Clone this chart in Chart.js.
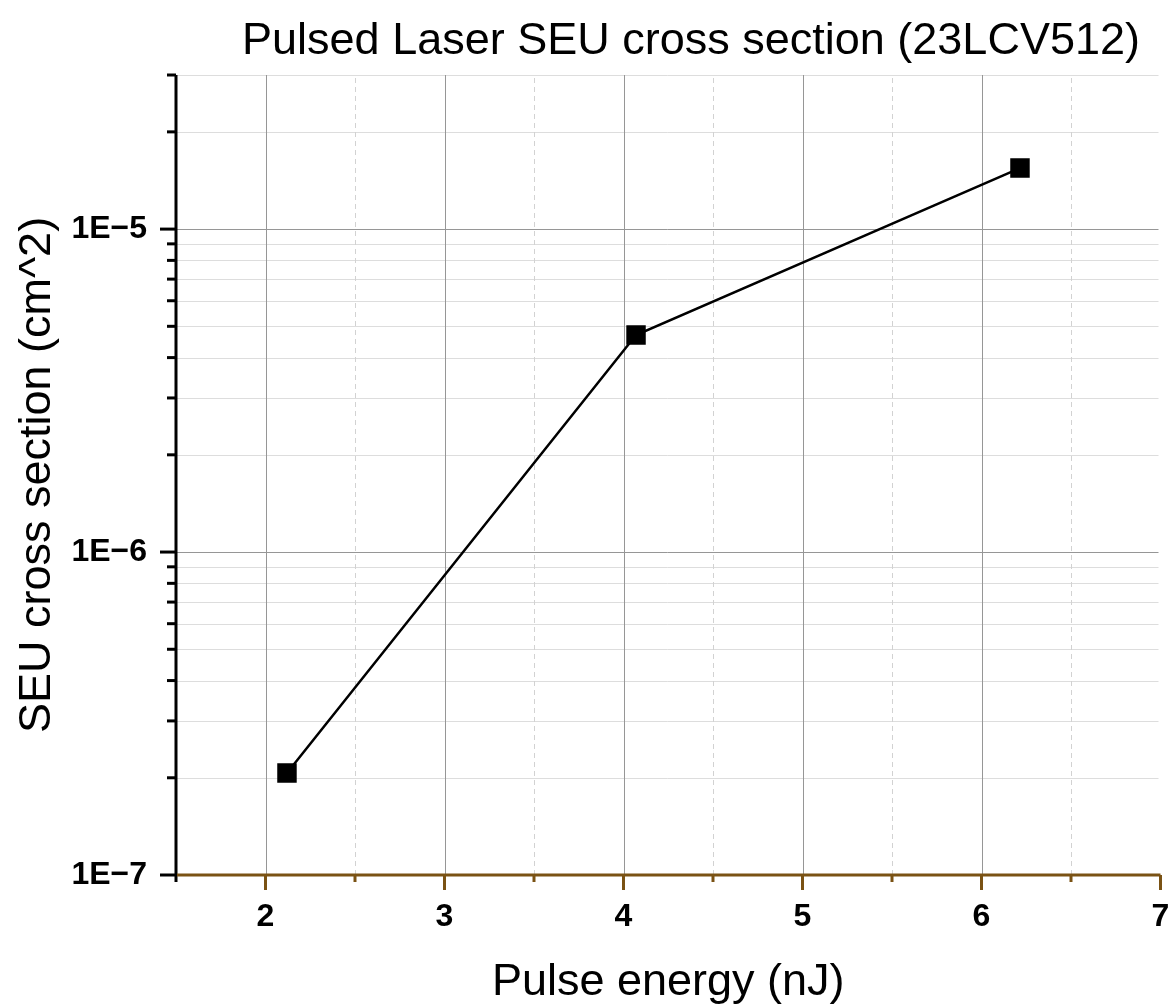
<!DOCTYPE html>
<html>
<head>
<meta charset="utf-8">
<script src="https://cdn.jsdelivr.net/npm/chart.js@4.4.1/dist/chart.umd.min.js"></script>
<style>
  html, body { margin: 0; padding: 0; background: #fff; overflow: hidden; }
  #wrap { width: 1175px; height: 1006px; }
  canvas { display: block; }
</style>
</head>
<body>
<div id="wrap"><canvas id="myChart" width="1175" height="1006"></canvas></div>
<script>
const energy = [2.12, 4.07, 6.215];
const crossSection = [2.07e-7, 4.70e-6, 1.545e-5];

const xTicks = [1.5, 2, 2.5, 3, 3.5, 4, 4.5, 5, 5.5, 6, 6.5, 7];
const yTicks = [
    1e-7, 2e-7, 3e-7, 4e-7, 5e-7, 6e-7, 7e-7, 8e-7, 9e-7,
    1e-6, 2e-6, 3e-6, 4e-6, 5e-6, 6e-6, 7e-6, 8e-6, 9e-6,
    1e-5, 2e-5, 3e-5
];

const titleText = 'Pulsed Laser SEU cross section (23LCV512)';
const xTitle = 'Pulse energy (nJ)';
const yTitle = 'SEU cross section (cm^2)';

const axisBrown = '#7a5214';

function isDecade(v) {
    const l = Math.log10(v);
    return Math.abs(l - Math.round(l)) < 1e-9;
}
function isInt(v) {
    return Math.abs(v - Math.round(v)) < 1e-9;
}

// grid, axis lines, tick marks and titles
const decorations = {
    id: 'decorations',
    beforeDatasetsDraw(chart) {
        const ctx = chart.ctx;
        const a = chart.chartArea;
        const xs = chart.scales.x, ys = chart.scales.y;
        ctx.save();
        ctx.lineWidth = 1;
        // horizontal grid
        yTicks.forEach(v => {
            if (v === yTicks[0]) return;
            const y = Math.round(ys.getPixelForValue(v)) + 0.5;
            ctx.strokeStyle = isDecade(v) ? '#969696' : '#dddddd';
            ctx.beginPath();
            ctx.moveTo(a.left, y);
            ctx.lineTo(a.right - 2, y);
            ctx.stroke();
        });
        // vertical grid
        xTicks.forEach(v => {
            if (v === xTicks[0] || v === xTicks[xTicks.length - 1]) return;
            const x = Math.round(xs.getPixelForValue(v)) + 0.5;
            if (isInt(v)) {
                ctx.strokeStyle = '#969696';
                ctx.setLineDash([]);
            } else {
                ctx.strokeStyle = '#d2d2d2';
                ctx.setLineDash([5, 4]);
            }
            ctx.beginPath();
            ctx.moveTo(x, a.bottom);
            ctx.lineTo(x, a.top);
            ctx.stroke();
        });
        ctx.restore();
    },
    afterDraw(chart) {
        const ctx = chart.ctx;
        const a = chart.chartArea;
        const xs = chart.scales.x, ys = chart.scales.y;
        ctx.save();
        ctx.lineWidth = 3;
        // y ticks
        ctx.strokeStyle = '#000';
        yTicks.forEach(v => {
            const y = ys.getPixelForValue(v);
            const len = isDecade(v) ? 16 : 9;
            ctx.beginPath();
            ctx.moveTo(a.left - len, y);
            ctx.lineTo(a.left, y);
            ctx.stroke();
        });
        // left axis
        ctx.beginPath();
        ctx.moveTo(a.left, a.top);
        ctx.lineTo(a.left, a.bottom + 7);
        ctx.stroke();
        // x ticks
        ctx.strokeStyle = axisBrown;
        xTicks.forEach(v => {
            if (v === xTicks[0]) return;
            const x = xs.getPixelForValue(v);
            const len = isInt(v) ? 15 : 7;
            ctx.beginPath();
            ctx.moveTo(x, a.bottom);
            ctx.lineTo(x, a.bottom + len);
            ctx.stroke();
        });
        // bottom axis
        ctx.beginPath();
        ctx.moveTo(a.left + 1, a.bottom);
        ctx.lineTo(a.right, a.bottom);
        ctx.stroke();

        // titles
        ctx.fillStyle = '#000';
        ctx.font = '45px "Liberation Sans", Arial, sans-serif';
        ctx.textAlign = 'center';
        ctx.textBaseline = 'alphabetic';
        ctx.fillText(titleText, 691, 54);
        ctx.fillText(xTitle, (a.left + a.right) / 2, 995);
        ctx.translate(50, (a.top + a.bottom) / 2);
        ctx.rotate(-Math.PI / 2);
        ctx.fillText(yTitle, 0, 0);
        ctx.restore();
    }
};

const data = {
    datasets: [{
        label: 'SEU cross section',
        data: energy.map((e, i) => ({ x: e, y: crossSection[i] })),
        borderColor: '#000',
        backgroundColor: '#000',
        borderWidth: 2.5,
        pointStyle: 'rect',
        pointRadius: 12,
        pointHoverRadius: 12,
        showLine: true,
        tension: 0
    }]
};

const config = {
    type: 'scatter',
    data: data,
    options: {
        responsive: false,
        animation: false,
        events: [],
        layout: { padding: { top: 75, right: 9, left: 0, bottom: 0 } },
        plugins: {
            legend: { display: false },
            title: { display: false },
            tooltip: { enabled: false }
        },
        scales: {
            x: {
                type: 'linear',
                min: 1.5,
                max: 7,
                grid: { display: false, drawTicks: false },
                border: { display: false },
                afterBuildTicks(scale) {
                    scale.ticks = xTicks.map(v => ({ value: v }));
                },
                afterFit(scale) {
                    scale.height = 131;
                    scale.paddingLeft = 0;
                    scale.paddingRight = 0;
                },
                ticks: {
                    autoSkip: false,
                    maxRotation: 0,
                    padding: 23,
                    color: '#000',
                    font: { family: '"Liberation Sans", Arial, sans-serif', size: 32, weight: 'bold' },
                    callback: v => isInt(v) ? String(v) : ''
                }
            },
            y: {
                type: 'logarithmic',
                min: 1e-7,
                max: 3e-5,
                grid: { display: false, drawTicks: false },
                border: { display: false },
                afterBuildTicks(scale) {
                    scale.ticks = yTicks.map(v => ({ value: v }));
                },
                afterFit(scale) {
                    scale.width = 176;
                    scale.paddingTop = 0;
                    scale.paddingBottom = 0;
                },
                ticks: {
                    autoSkip: false,
                    padding: 29,
                    color: '#000',
                    font: { family: '"Liberation Sans", Arial, sans-serif', size: 32, weight: 'bold' },
                    callback: v => isDecade(v) ? '1E\u2212' + Math.abs(Math.round(Math.log10(v))) : ''
                }
            }
        }
    },
    plugins: [decorations]
};

const myChart = new Chart(document.getElementById('myChart'), config);
</script>
</body>
</html>
